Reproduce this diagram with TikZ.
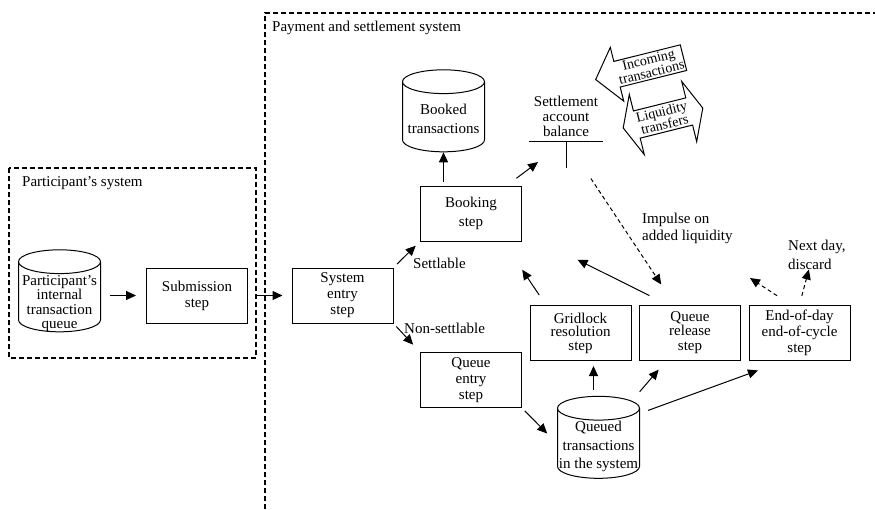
\documentclass[tikz,border=0pt]{standalone}
\usepackage{fontspec}
\setmainfont{Liberation Serif}
\usetikzlibrary{shapes.geometric,arrows.meta,calc}

\tikzset{
  stepbox/.style={draw, line width=1pt, minimum width=101pt, minimum height=55pt,
    inner sep=0pt, align=center, font=\fontsize{15}{16}\selectfont},
  store/.style={draw, line width=1pt, cylinder, shape border rotate=90, aspect=0.29,
    minimum width=82pt, minimum height=82pt, inner sep=0pt},
  storetext/.style={inner sep=0pt, align=center, font=\fontsize{15}{16}\selectfont},
  sysframe/.style={line width=1.5pt, dash pattern=on 5pt off 3pt},
  arr/.style={line width=1pt, -{Triangle[length=10pt,width=9pt]}},
  darr/.style={arr, dash pattern=on 4pt off 3pt},
  lbl/.style={inner sep=0pt, font=\fontsize{15}{16}\selectfont},
  arrowtext/.style={transform shape, inner sep=0pt, align=center,
    font=\fontsize{14}{13}\selectfont},
}
\newcommand{\storewidth}{\rule{82pt}{0pt}}

\begin{document}
\begin{tikzpicture}[x=1pt,y=-1pt]
    \useasboundingbox (0,0) rectangle (875,509);
    % frames
    \draw[sysframe] (9,168) rectangle (256,358);
    \node[lbl, anchor=west] (partlbl) at (22,183) {Participant's system};
    \draw[sysframe] (265,509) -- (265,13) -- (875,13);
    \node[lbl, anchor=west] (pslbl) at (272,28) {Payment and settlement system};

    % participant side
    \node[store, label={[storetext, yshift=-6.5pt, font=\fontsize{15}{14.5}\selectfont]center:Participant's\\internal\\transaction\\queue}] (partq) at (59.5,297) {\storewidth};
    \node[stepbox] (submit) at (197,295.5) {Submission\\step};

    % settlement system
    \node[stepbox] (sysentry) at (342.5,295.5) {System\\entry\\step};
    \node[stepbox, font=\fontsize{15}{19}\selectfont] (booking) at (471,213.5) {Booking\\step};
    \node[store, label={[storetext, yshift=-1.5pt, font=\fontsize{15}{19}\selectfont]center:Booked\\transactions}] (booked) at (443.5,117) {\storewidth};
    \node[stepbox] (qentry) at (471,380) {Queue\\entry\\step};
    \node[store, label={[storetext, yshift=-3pt, font=\fontsize{15}{18.5}\selectfont]center:Queued\\transactions\\in the system}] (queued) at (598.5,443.5) {\storewidth};
    \node[stepbox, font=\fontsize{15}{13.5}\selectfont] (gridlock) at (580.5,333) {Gridlock\\resolution\\step};
    \node[stepbox, font=\fontsize{15}{14.5}\selectfont] (qrelease) at (690,332.5) {Queue\\release\\step};
    \node[stepbox] (eod) at (799.5,332.5) {End-of-day\\end-of-cycle\\step};

    % account balance
    \node[lbl, align=center, minimum width=74pt, inner ysep=4pt, anchor=south,
          font=\fontsize{15}{15}\selectfont] (balance) at (566,141) {Settlement\\account\\balance};
    \coordinate (tick) at ($(balance.south)+(0,27)$);
    \draw[line width=1pt] (balance.south west) -- (balance.south east);
    \draw[line width=1pt] (balance.south) -- (tick);

    % incoming transactions and liquidity transfers
    \begin{scope}[shift={(650,66)}, rotate=14]
        \draw[line width=1pt] (-56,0) -- (-34,-27.7) -- (-34,-13.2) -- (34.5,-13.2)
            -- (34.5,13.2) -- (-34,13.2) -- (-34,27.7) -- cycle;
        \node[arrowtext] (incoming) at (0,0) {Incoming\\transactions};
    \end{scope}
    \begin{scope}[shift={(663,118)}, rotate=14]
        \draw[line width=1pt] (-41,0) -- (-27,-31) -- (-27,-14) -- (27,-14) -- (27,-31)
            -- (41,0) -- (27,31) -- (27,14) -- (-27,14) -- (-27,31) -- cycle;
        \node[arrowtext] (liquidity) at (0,0) {Liquidity\\transfers};
    \end{scope}

    % labels
    \node[lbl, anchor=west] (settlable) at (413,263) {Settlable};
    \node[lbl, anchor=west] (nonsettlable) at (404,328) {Non-settlable};
    \node[lbl, anchor=west, align=left, font=\fontsize{15}{17}\selectfont] (impulse) at (642,228.5) {Impulse on\\added liquidity};
    \node[lbl, anchor=west, align=left, font=\fontsize{15}{19}\selectfont] (nextday) at (788,254.5) {Next day,\\discard};
    \coordinate (eodout) at (750,278);

    % flows
    \draw[arr, shorten <=9pt, shorten >=10pt] (partq.0 |- submit.west) -- (submit.west);
    \draw[arr, shorten <=8pt, shorten >=9pt] (submit) -- (sysentry);
    \draw[arr, shorten <=5pt, shorten >=6pt] (sysentry.north east) -- (booking.south west);
    \draw[arr, shorten <=4pt, shorten >=10pt] (sysentry.south east) -- (qentry.north west);
    \draw[arr, shorten <=4pt] (booked.270 |- booking.north) -- (booked.270);
    \draw[arr, shorten <=12pt, shorten >=35pt] (booking.38) -- (balance.south);
    \draw[arr, shorten <=4pt, shorten >=14pt] (qentry.south east) -- (queued.180);
    \draw[arr, shorten <=6pt, shorten >=5pt] (queued.96) -- (queued.96 |- gridlock.south);
    \draw[arr, shorten <=12pt, shorten >=12pt] (queued.52) -- (qrelease.230);
    \draw[arr, shorten <=8.5pt, shorten >=29pt] (queued.36) -- (eod.243);
    \draw[arr, shorten <=12pt, shorten >=34pt] (gridlock.141) -- (booking.319);
    \draw[arr, shorten <=20pt, shorten >=62pt] (qrelease.129) -- (booking.340);
    \draw[darr, shorten <=45pt, shorten >=24pt] (balance.south) -- (qrelease.119);
    \draw[darr, shorten <=16pt] (eod.108) -- (eodout);
    \draw[darr, shorten <=9pt] (eod.north) -- ([xshift=-8pt]nextday.south);
\end{tikzpicture}
\end{document}
